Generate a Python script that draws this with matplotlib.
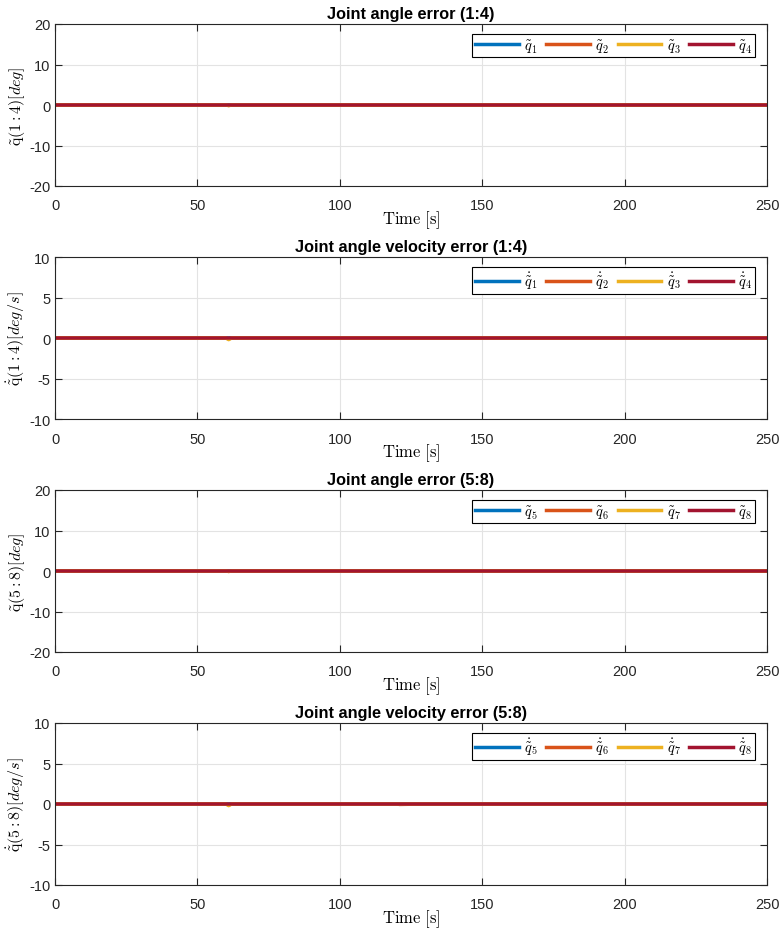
import matplotlib.pyplot as plt

plt.rcParams['font.family'] = ['Liberation Sans', 'DejaVu Sans']
plt.rcParams['mathtext.fontset'] = 'cm'

# sample times [s]
t = [0, 10, 20, 30, 40, 50, 60, 61, 62, 70, 80, 90, 100, 110, 120, 121, 130,
     140, 150, 160, 170, 180, 190, 200, 210, 220, 230, 240, 250]

# joint angle errors [deg], joints 1-4
e_q1 = [0.0] * 29
e_q2 = [0.0] * 6 + [0.0, -0.1, 0.0] + [0.0] * 20
e_q3 = [0.0] * 6 + [0.0, -0.15, 0.0] + [0.0] * 20
e_q4 = [0.0] * 29

# joint velocity errors [deg/s], joints 1-4
ed_q1 = [0.0] * 29
ed_q2 = [0.0] * 6 + [0.0, -0.1, 0.0] + [0.0] * 20
ed_q3 = [0.0] * 6 + [0.0, -0.2, 0.0] + [0.0] * 20
ed_q4 = [0.0] * 29

# joint angle errors [deg], joints 5-8
e_q5 = [0.0] * 29
e_q6 = [0.0] * 6 + [0.0, -0.1, 0.0] + [0.0] * 20
e_q7 = [0.0] * 6 + [0.0, -0.1, 0.0] + [0.0] * 20
e_q8 = [0.0] * 29

# joint velocity errors [deg/s], joints 5-8
ed_q5 = [0.0] * 29
ed_q6 = [0.0] * 6 + [0.0, -0.1, 0.0] + [0.0] * 6 + [-0.05, 0.0] + [0.0] * 12
ed_q7 = [0.0] * 6 + [0.0, -0.2, 0.0] + [0.0] * 20
ed_q8 = [0.0] * 29

titles = ['Joint angle error (1:4)', 'Joint angle velocity error (1:4)',
          'Joint angle error (5:8)', 'Joint angle velocity error (5:8)']
ylabels = [r'$\tilde{\mathrm{q}}(1:4)[deg]$', r'$\dot{\tilde{\mathrm{q}}}(1:4)[deg/s]$',
           r'$\tilde{\mathrm{q}}(5:8)[deg]$', r'$\dot{\tilde{\mathrm{q}}}(5:8)[deg/s]$']
ylims = [20, 10, 20, 10]
series = [[e_q1, e_q2, e_q3, e_q4], [ed_q1, ed_q2, ed_q3, ed_q4],
          [e_q5, e_q6, e_q7, e_q8], [ed_q5, ed_q6, ed_q7, ed_q8]]
labels = [[r'$\tilde{q}_%d$' % i for i in range(1, 5)],
          [r'$\dot{\tilde{q}}_%d$' % i for i in range(1, 5)],
          [r'$\tilde{q}_%d$' % i for i in range(5, 9)],
          [r'$\dot{\tilde{q}}_%d$' % i for i in range(5, 9)]]
colors = ['#0072BD', '#D95319', '#EDB120', '#A2142F']

W, H = 781, 929
fig = plt.figure(figsize=(W / 100, H / 100), dpi=100)
tops = [25, 258, 491, 724]
for k in range(4):
    ax = fig.add_axes([55 / W, 1 - (tops[k] + 162) / H, 712 / W, 162 / H])
    for s, lab, c in zip(series[k], labels[k], colors):
        ax.plot(t, s, color=c, lw=2.5, label=lab, snap=False)
    ax.set_xlim(0, 250)
    ax.set_ylim(-ylims[k], ylims[k])
    ax.set_xticks([0, 50, 100, 150, 200, 250])
    ax.set_yticks([-ylims[k], -ylims[k] / 2, 0, ylims[k] / 2, ylims[k]])
    ax.set_yticklabels(['%d' % v for v in ax.get_yticks()])
    ax.grid(True, color='#e3e3e3', lw=0.8)
    ax.set_axisbelow(True)
    ax.tick_params(direction='in', labelsize=10.5, colors='#262626', length=5,
                   top=True, right=True)
    ax.tick_params(axis='x', pad=9)
    for sp in ax.spines.values():
        sp.set_color('#262626')
        sp.set_linewidth(0.8)
    ax.set_title(titles[k], fontsize=11.7, fontweight='bold', pad=4)
    ax.set_xlabel(r'$\mathrm{Time\ [s]}$', fontsize=12, labelpad=-3)
    ax.set_ylabel(ylabels[k], fontsize=11.5, labelpad=1)
    leg = ax.legend(loc='upper right', ncol=4, fontsize=10.5, frameon=True, fancybox=False,
                    edgecolor='black', framealpha=1, handlelength=3.0, columnspacing=0.6,
                    handletextpad=0.35, borderpad=0.2, borderaxespad=0,
                    bbox_to_anchor=(0.983, 0.938))
    leg.get_frame().set_linewidth(0.8)

fig.savefig('out.png', dpi=100)
